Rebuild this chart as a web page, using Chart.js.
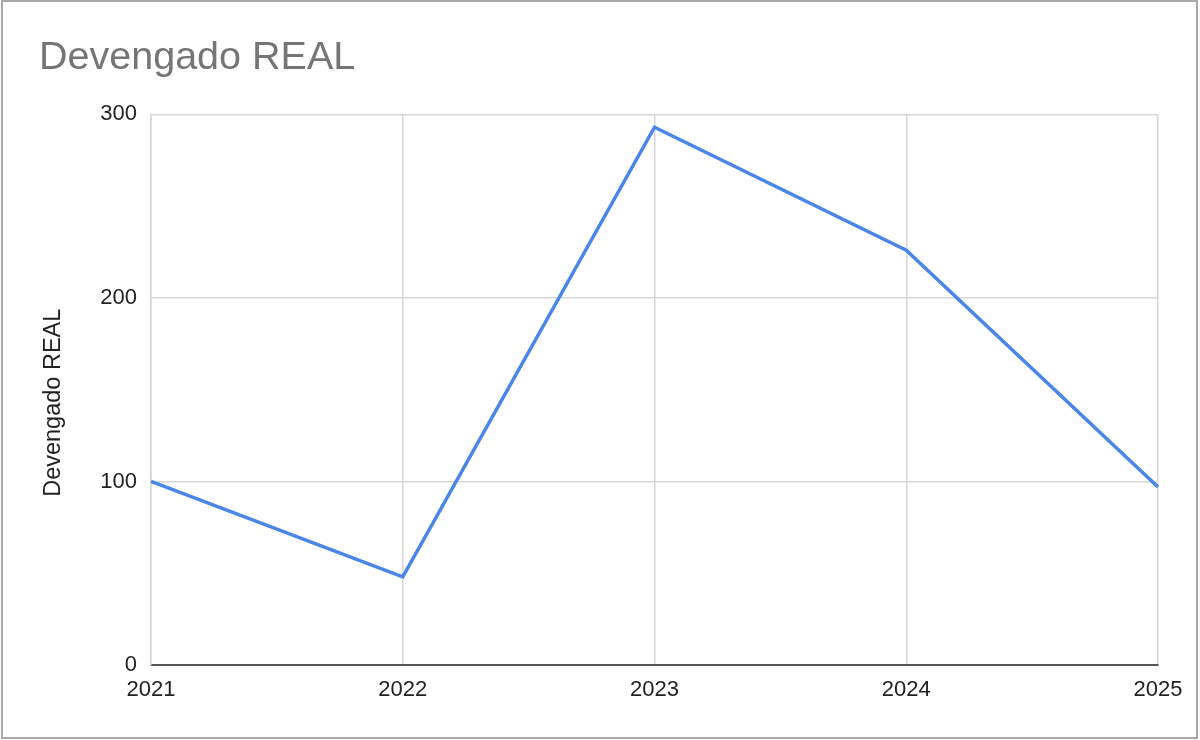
<!DOCTYPE html>
<html>
<head>
<meta charset="utf-8">
<script src="https://cdn.jsdelivr.net/npm/chart.js@4/dist/chart.umd.min.js"></script>
<style>
  html, body { margin: 0; padding: 0; background: #fff; }
  #wrap { position: relative; width: 1200px; height: 740px; }
  #frame { position: absolute; left: 1px; top: 0px; width: 1193px; height: 735px;
           border: 2px solid #a8a8a8; pointer-events: none; }
</style>
</head>
<body>
<div id="wrap">
  <canvas id="chart" width="1200" height="740"></canvas>
  <div id="frame"></div>
</div>
<script>
// chart values
var years = ["2021", "2022", "2023", "2024", "2025"];
var devengadoReal = [100, 48, 293, 226, 97];
var yTicks = [0, 100, 200, 300];

var ctx = document.getElementById("chart").getContext("2d");
Chart.defaults.font.family = "'Liberation Sans', Arial, sans-serif";

var chart = new Chart(ctx, {
    type: "line",
    data: {
        labels: years,
        datasets: [{
            label: "Devengado REAL",
            data: devengadoReal,
            borderColor: "#4a86e8",
            borderWidth: 3.5,
            pointRadius: 0,
            tension: 0,
            fill: false
        }]
    },
    options: {
        responsive: false,
        animation: false,
        layout: { padding: { left: 39, right: 42, top: 0, bottom: 0 } },
        plugins: {
            legend: { display: false },
            tooltip: { enabled: false },
            title: {
                display: true,
                text: "Devengado REAL",
                align: "start",
                color: "#757575",
                font: { size: 39.5, weight: "normal" },
                padding: { top: 34, bottom: 33 }
            }
        },
        scales: {
            x: {
                offset: false,
                grid: { color: "#d6d6d6", lineWidth: 1.5, drawTicks: false },
                border: { color: "#555", width: 2 },
                ticks: { color: "#222", font: { size: 22 }, padding: 12, maxRotation: 0, autoSkip: false },
                afterFit: function (s) { s.height = 75; }
            },
            y: {
                min: yTicks[0],
                max: yTicks[yTicks.length - 1],
                afterBuildTicks: function (s) { s.ticks = yTicks.map(function (v) { return { value: v }; }); },
                grid: { color: "#d6d6d6", lineWidth: 1.5, drawTicks: false },
                border: { color: "#d6d6d6", width: 1.5 },
                ticks: { color: "#222", font: { size: 22 }, padding: 14 },
                title: {
                    display: true,
                    text: "Devengado REAL    ",
                    color: "#222",
                    font: { size: 23.5 },
                    padding: 0
                },
                afterFit: function (s) { s.width = 112; }
            }
        }
    }
});
</script>
</body>
</html>
